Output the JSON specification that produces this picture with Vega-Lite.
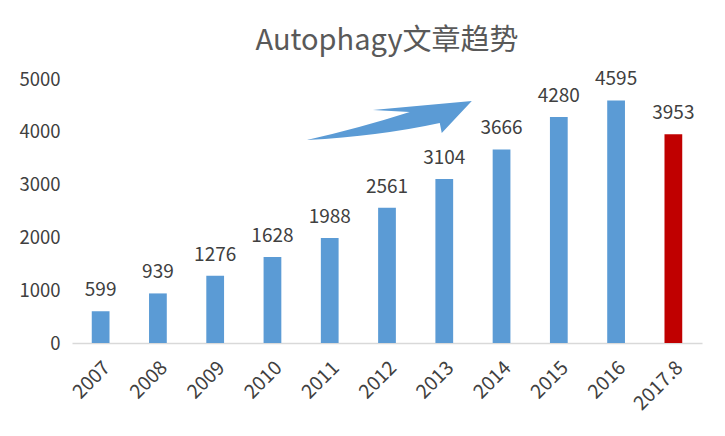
{
  "$schema": "https://vega.github.io/schema/vega-lite/v6.json",
  "width": 630,
  "height": 264,
  "autosize": {"type": "none"},
  "padding": {"left": 72, "top": 79, "right": 23, "bottom": 93},
  "background": "white",
  "config": {"view": {"stroke": null}, "font": "Noto Sans CJK SC"},
  "title": {"text": "Autophagy文章趋势", "fontSize": 29, "fontWeight": "normal", "color": "#595959", "font": "Noto Sans CJK SC", "offset": 14, "anchor": "middle"},
  "layer": [
    {
      "data": {"values": [
        {"year": "2007", "count": 599, "type": "full"},
        {"year": "2008", "count": 939, "type": "full"},
        {"year": "2009", "count": 1276, "type": "full"},
        {"year": "2010", "count": 1628, "type": "full"},
        {"year": "2011", "count": 1988, "type": "full"},
        {"year": "2012", "count": 2561, "type": "full"},
        {"year": "2013", "count": 3104, "type": "full"},
        {"year": "2014", "count": 3666, "type": "full"},
        {"year": "2015", "count": 4280, "type": "full"},
        {"year": "2016", "count": 4595, "type": "full"},
        {"year": "2017.8", "count": 3953, "type": "partial"}
      ]},
      "encoding": {
        "x": {"field": "year", "type": "ordinal", "sort": null, "title": null,
          "scale": {"paddingInner": 0.69, "paddingOuter": 0.345},
          "axis": {"labelAngle": -45, "labelFontSize": 19.5, "labelColor": "#404040", "ticks": false, "domainColor": "#D9D9D9", "domainWidth": 1.5, "labelPadding": 15, "labelFont": "Noto Sans CJK SC"}},
        "y": {"field": "count", "type": "quantitative", "title": null,
          "scale": {"domain": [0, 5000]},
          "axis": {"values": [0, 1000, 2000, 3000, 4000, 5000], "format": "d", "grid": false, "domain": false, "ticks": false, "labelFontSize": 18.5, "labelColor": "#404040", "labelPadding": 12, "labelFont": "Noto Sans CJK SC"}}
      },
      "layer": [
        {"mark": {"type": "bar"},
         "encoding": {"color": {"field": "type", "type": "nominal", "scale": {"domain": ["full", "partial"], "range": ["#5B9BD5", "#C00000"]}, "legend": null}}},
        {"mark": {"type": "text", "baseline": "bottom", "dy": -11, "fontSize": 19, "color": "#404040", "font": "Noto Sans CJK SC"},
         "encoding": {"text": {"field": "count", "type": "quantitative"}}}
      ]
    },
    {
      "data": {"values": [{"px": 5.54, "py": 4242}]},
      "mark": {"type": "point", "filled": true, "opacity": 1, "color": "#5B9BD5", "strokeWidth": 0,
        "shape": "M-1,0.255Q-0.358,0.109,0.248,-0.085L-0.2,-0.109L1,-0.218L0.636,0.17L0.612,0.048Q-0.115,0.206,-1,0.255Z",
        "size": 27225},
      "encoding": {
        "x": {"field": "px", "type": "quantitative", "scale": {"domain": [0, 11]}, "axis": null},
        "y": {"field": "py", "type": "quantitative"}
      }
    }
  ],
  "resolve": {"scale": {"x": "independent"}, "axis": {"x": "independent"}}
}
